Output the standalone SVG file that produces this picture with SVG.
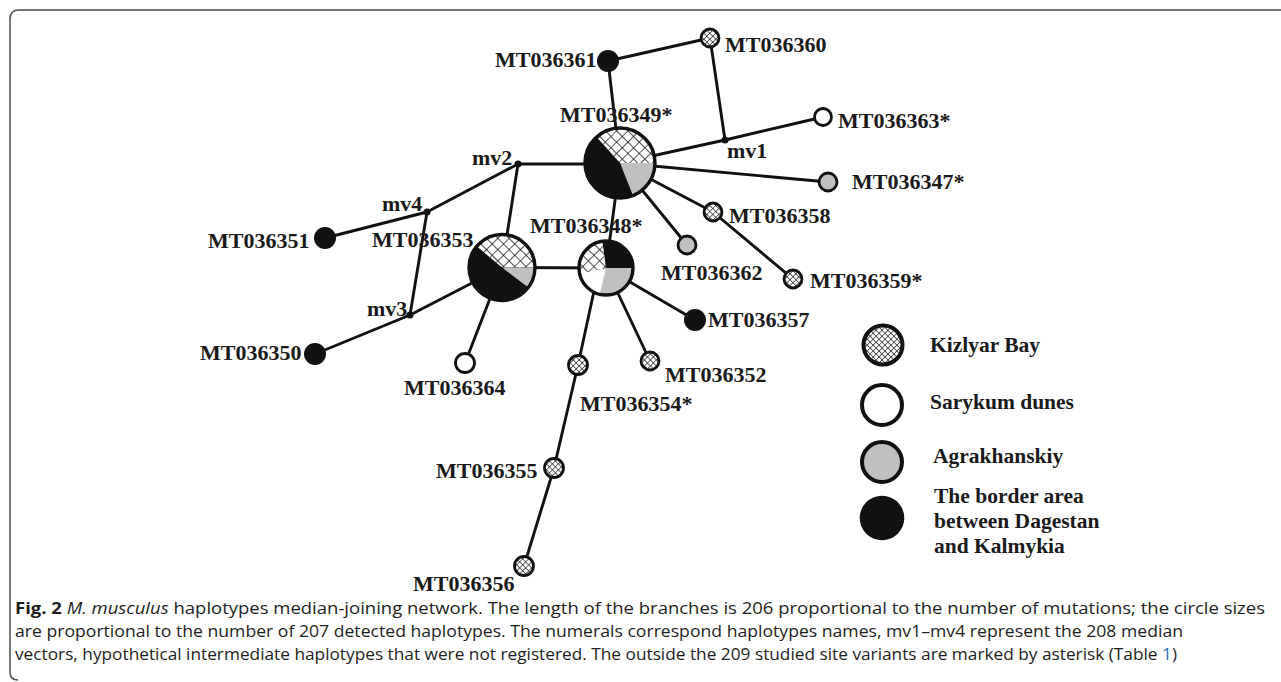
<svg xmlns="http://www.w3.org/2000/svg" width="1281" height="682" viewBox="0 0 1281 682">
<defs>
<pattern id="hatchL" patternUnits="userSpaceOnUse" width="8" height="8" patternTransform="rotate(45)">
<rect width="8" height="8" fill="#fff"/>
<path d="M0 0H8M0 0V8" stroke="#111" stroke-width="1.4"/>
</pattern>
<pattern id="hatchS" patternUnits="userSpaceOnUse" width="4.2" height="4.2" patternTransform="rotate(45)">
<rect width="4.2" height="4.2" fill="#fff"/>
<path d="M0 0H4.2M0 0V4.2" stroke="#111" stroke-width="1.2"/>
</pattern>
<style>
.lbl{font-family:"Liberation Serif","Times New Roman",serif;font-weight:bold;font-size:22px;fill:#1a1a1a}
.leg{font-family:"Liberation Serif","Times New Roman",serif;font-weight:bold;font-size:21.5px;fill:#1a1a1a}
.cap{font-family:"Open Sans","Noto Sans","Liberation Sans",sans-serif;font-size:16.5px;fill:#1e1e1e}
.edge{stroke:#111;stroke-width:2.9;fill:none;stroke-linecap:round}
.hs{fill:url(#hatchS);stroke:#111;stroke-width:2.8}
.wh{fill:#fff;stroke:#111;stroke-width:2.8}
.gr{fill:#c0c0c0;stroke:#111;stroke-width:2.8}
.bk{fill:#111}
.mv{fill:#111}
.ring{fill:none;stroke:#111;stroke-width:3.4}
</style>
</defs>
<rect width="1281" height="682" fill="#fff"/>
<path d="M1281 10H19Q10 10 10 19V672Q10 680 18 680" fill="none" stroke="#555" stroke-width="1.6"/>
<path d="M1281 10H19" fill="none" stroke="#777" stroke-width="2"/>

<g id="connectors">
<line class="edge" x1="608" y1="61" x2="710" y2="38"/>
<line class="edge" x1="608" y1="61" x2="620" y2="163"/>
<line class="edge" x1="710" y1="38" x2="725" y2="140"/>
<line class="edge" x1="620" y1="163" x2="725" y2="140"/>
<line class="edge" x1="725" y1="140" x2="823" y2="117"/>
<line class="edge" x1="620" y1="163" x2="828" y2="182"/>
<line class="edge" x1="518" y1="164" x2="620" y2="164"/>
<line class="edge" x1="620" y1="163" x2="713" y2="212"/>
<line class="edge" x1="713" y1="212" x2="793" y2="279"/>
<line class="edge" x1="620" y1="163" x2="687" y2="245"/>
<line class="edge" x1="620" y1="163" x2="606" y2="268"/>
<line class="edge" x1="518" y1="164" x2="427" y2="212"/>
<line class="edge" x1="427" y1="212" x2="325" y2="238"/>
<line class="edge" x1="427" y1="212" x2="410" y2="315"/>
<line class="edge" x1="410" y1="315" x2="315" y2="354"/>
<line class="edge" x1="410" y1="315" x2="502" y2="267.5"/>
<line class="edge" x1="518" y1="164" x2="502" y2="267.5"/>
<line class="edge" x1="502" y1="267.5" x2="606" y2="268"/>
<line class="edge" x1="502" y1="267.5" x2="465" y2="363"/>
<line class="edge" x1="599" y1="268" x2="578" y2="365"/>
<line class="edge" x1="578" y1="365" x2="554" y2="468"/>
<line class="edge" x1="554" y1="468" x2="524" y2="566"/>
<line class="edge" x1="606" y1="268" x2="650" y2="361"/>
<line class="edge" x1="606" y1="268" x2="695" y2="320"/>
</g>

<g id="MT036349">
<path d="M620 163L596.6 137A35 35 0 0 1 655 163Z" fill="url(#hatchL)"/>
<path d="M620 163L655 163A35 35 0 0 1 633.1 195.4Z" fill="#c0c0c0"/>
<path d="M620 163L633.1 195.4A35 35 0 0 1 596.6 137Z" fill="#111"/>
<circle class="ring" cx="620" cy="163" r="35"/>
<text class="lbl" x="560" y="122">MT036349*</text>
</g>
<g id="MT036353">
<path d="M502 267.5L476.7 246.3A33 33 0 0 1 535 267.5Z" fill="url(#hatchL)"/>
<path d="M502 267.5L535 267.5A33 33 0 0 1 528.4 287.4Z" fill="#c0c0c0"/>
<path d="M502 267.5L528.4 287.4A33 33 0 1 1 476.7 246.3Z" fill="#111"/>
<circle class="ring" cx="502" cy="267.5" r="33"/>
<text class="lbl" x="372" y="247">MT036353</text>
</g>
<g id="MT036348">
<path d="M606 268L602.2 241.3A27 27 0 0 1 633 268Z" fill="#111"/>
<path d="M606 268L633 268A27 27 0 0 1 599.5 294.2Z" fill="#c0c0c0"/>
<path d="M606 268L599.5 294.2A27 27 0 0 1 579.7 274.1Z" fill="#fff"/>
<path d="M606 268L579.7 274.1A27 27 0 0 1 602.2 241.3Z" fill="url(#hatchL)"/>
<circle class="ring" cx="606" cy="268" r="27"/>
<text class="lbl" x="530" y="233">MT036348*</text>
</g>

<g id="MT036361"><circle class="bk" cx="608" cy="61" r="11"/><text class="lbl" x="495" y="67">MT036361</text></g>
<g id="MT036360"><circle class="hs" cx="710" cy="38" r="9"/><text class="lbl" x="725" y="52">MT036360</text></g>
<g id="MT036363"><circle class="wh" cx="823" cy="117" r="8.5"/><text class="lbl" x="838" y="128">MT036363*</text></g>
<g id="mv1"><circle class="mv" cx="725" cy="140" r="3.5"/><text class="lbl" x="727" y="158">mv1</text></g>
<g id="MT036347"><circle class="gr" cx="828" cy="182" r="9"/><text class="lbl" x="852" y="189">MT036347*</text></g>
<g id="mv2"><circle class="mv" cx="518" cy="164" r="3.5"/><text class="lbl" x="472" y="165">mv2</text></g>
<g id="MT036358"><circle class="hs" cx="713" cy="212" r="9"/><text class="lbl" x="729" y="223">MT036358</text></g>
<g id="MT036362"><circle class="gr" cx="687" cy="245" r="9"/><text class="lbl" x="661" y="280">MT036362</text></g>
<g id="MT036359"><circle class="hs" cx="793" cy="279" r="9"/><text class="lbl" x="810" y="288">MT036359*</text></g>
<g id="mv4"><circle class="mv" cx="427" cy="212" r="3.5"/><text class="lbl" x="382" y="211">mv4</text></g>
<g id="MT036351"><circle class="bk" cx="325" cy="238" r="11"/><text class="lbl" x="208" y="248">MT036351</text></g>
<g id="mv3"><circle class="mv" cx="410" cy="315" r="3.5"/><text class="lbl" x="367" y="316">mv3</text></g>
<g id="MT036350"><circle class="bk" cx="315" cy="354" r="11"/><text class="lbl" x="200" y="360">MT036350</text></g>
<g id="MT036364"><circle class="wh" cx="465" cy="363" r="9.5"/><text class="lbl" x="404" y="395">MT036364</text></g>
<g id="MT036357"><circle class="bk" cx="695" cy="320" r="11"/><text class="lbl" x="708" y="327">MT036357</text></g>
<g id="MT036352"><circle class="hs" cx="650" cy="361" r="9"/><text class="lbl" x="665" y="382">MT036352</text></g>
<g id="MT036354"><circle class="hs" cx="578" cy="365" r="9.5"/><text class="lbl" x="580" y="411">MT036354*</text></g>
<g id="MT036355"><circle class="hs" cx="554" cy="468" r="9.5"/><text class="lbl" x="436" y="478">MT036355</text></g>
<g id="MT036356"><circle class="hs" cx="524" cy="566" r="9.5"/><text class="lbl" x="413" y="591">MT036356</text></g>

<g id="legend">
<circle cx="883" cy="345" r="19.5" fill="url(#hatchS)" stroke="#111" stroke-width="4"/>
<text class="leg" x="930" y="352">Kizlyar Bay</text>
<circle cx="882" cy="405" r="20" fill="#fff" stroke="#111" stroke-width="4"/>
<text class="leg" x="930" y="409">Sarykum dunes</text>
<circle cx="882" cy="462" r="20" fill="#c0c0c0" stroke="#111" stroke-width="4"/>
<text class="leg" x="933" y="463">Agrakhanskiy</text>
<circle cx="882" cy="518" r="22.3" fill="#111"/>
<text class="leg" x="934" y="503">The border area</text>
<text class="leg" x="934" y="528">between Dagestan</text>
<text class="leg" x="934" y="553">and Kalmykia</text>
</g>

<g id="caption">
<text class="cap" x="15" y="614" textLength="1250" lengthAdjust="spacingAndGlyphs"><tspan font-weight="bold">Fig. 2</tspan>  <tspan font-style="italic">M. musculus</tspan> haplotypes median-joining network. The length of the branches is 206 proportional to the number of mutations; the circle sizes</text>
<text class="cap" x="15" y="637" textLength="1168" lengthAdjust="spacingAndGlyphs">are proportional to the number of 207 detected haplotypes. The numerals correspond haplotypes names, mv1–mv4 represent the 208 median</text>
<text class="cap" x="15" y="660" textLength="1162" lengthAdjust="spacingAndGlyphs">vectors, hypothetical intermediate haplotypes that were not registered. The outside the 209 studied site variants are marked by asterisk (Table <tspan fill="#2a6ebb">1</tspan>)</text>
</g>
</svg>
